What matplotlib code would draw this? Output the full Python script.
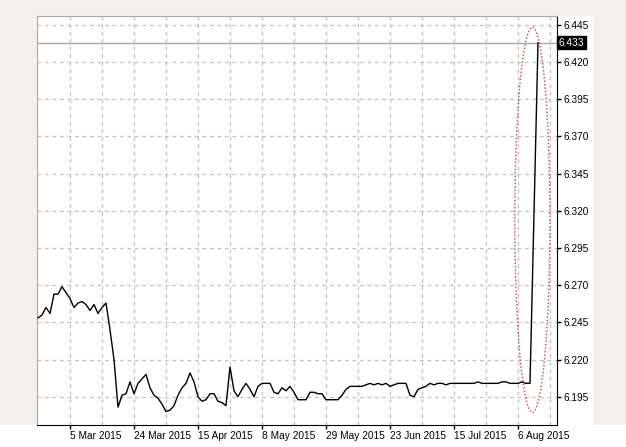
import matplotlib
matplotlib.use("Agg")
import matplotlib.pyplot as plt
from matplotlib.patches import Ellipse, Rectangle
import matplotlib.transforms as mtransforms

W, H = 626, 447
plt.rcParams["font.family"] = ["Liberation Sans", "DejaVu Sans"]

# one close per bar (bar index = position on the time axis)
prices = [
    6.248, 6.250, 6.255, 6.251, 6.264, 6.264, 6.269, 6.265, 6.261, 6.255,
    6.258, 6.259, 6.257, 6.253, 6.257, 6.251, 6.255, 6.258, 6.240, 6.220,
    6.188, 6.196, 6.197, 6.205, 6.197, 6.204, 6.207, 6.210, 6.201, 6.196,
    6.194, 6.190, 6.185, 6.186, 6.189, 6.196, 6.201, 6.204, 6.211, 6.205,
    6.195, 6.192, 6.193, 6.197, 6.197, 6.192, 6.191, 6.189, 6.215, 6.199,
    6.195, 6.200, 6.204, 6.200, 6.195, 6.202, 6.204, 6.204, 6.204, 6.198,
    6.197, 6.201, 6.199, 6.202, 6.198, 6.193, 6.193, 6.193, 6.198, 6.198,
    6.197, 6.197, 6.193, 6.193, 6.193, 6.193, 6.196, 6.200, 6.202, 6.202,
    6.202, 6.202, 6.203, 6.204, 6.203, 6.204, 6.203, 6.204, 6.202, 6.203,
    6.204, 6.204, 6.204, 6.196, 6.195, 6.200, 6.201, 6.202, 6.204, 6.203,
    6.204, 6.204, 6.203, 6.204, 6.204, 6.204, 6.204, 6.204, 6.204, 6.204,
    6.205, 6.204, 6.204, 6.204, 6.204, 6.204, 6.205, 6.205, 6.204, 6.204,
    6.204, 6.205, 6.204, 6.204, 6.318, 6.433,
]
last_price = 6.433

date_bars = [8, 24, 40, 56, 72, 88, 104, 120]
date_labels = ["5 Mar 2015", "24 Mar 2015", "15 Apr 2015", "8 May 2015",
               "29 May 2015", "23 Jun 2015", "15 Jul 2015", "6 Aug 2015"]
grid_bars = list(range(8, 130, 8))

price_ticks = [6.195, 6.220, 6.245, 6.270, 6.295, 6.320, 6.345,
               6.370, 6.395, 6.420, 6.445]
price_labels = ["6.195", "6.220", "6.245", "6.270", "6.295", "6.320",
                "6.345", "6.370", "6.395", "6.420", "6.445"]

# highlighted area (red dotted ellipse)
ell_x, ell_y, ell_w, ell_h = 123.6, 6.314, 8.8, 0.259

bg = "#f3efe9"
fig = plt.figure(figsize=(W / 100, H / 100), dpi=100, facecolor=bg)
# white panel behind plot + price scale, and the date strip
fig.patches.append(Rectangle((37 / W, 0), (592 - 37) / W, (H - 16) / H,
                             transform=fig.transFigure, color="white", zorder=-5))
fig.patches.append(Rectangle((0, 0), 1, 22 / H,
                             transform=fig.transFigure, color="white", zorder=-5))

ax = fig.add_axes([37 / W, 22 / H, (557 - 37) / W, (425 - 16) / H])
ax.set_facecolor("white")

ax.plot(range(len(prices)), prices, color="black", lw=1, zorder=3)
ax.axhline(last_price, color="#a8a8a8", lw=1, zorder=2)
ax.add_patch(Ellipse((ell_x, ell_y), ell_w, ell_h, fill=False,
                     edgecolor="#ff3030", lw=1, ls=(0, (1, 1.5)), zorder=4))

ax.set_xlim(-0.25, 129.75)
ax.set_ylim(6.176, 6.451)

ax.set_xticks(date_bars, date_labels)
ax.set_xticks(grid_bars, minor=True)
ax.set_yticks(price_ticks, price_labels)
ax.yaxis.tick_right()
for lab in ax.get_xticklabels():
    lab.set_horizontalalignment("left")
    lab.set_x(lab.get_position()[0])
ax.tick_params(axis="x", which="major", length=3, width=1, pad=1,
               labelsize=7.3, color="black")
ax.tick_params(axis="x", which="minor", length=0)
ax.tick_params(axis="y", length=3, width=1, pad=1.5, labelsize=7.3,
               color="black")

ax.grid(True, which="both", color="#c0c0c0", lw=0.9, ls=(0, (3, 3)))
ax.set_axisbelow(True)

for side in ("left", "top"):
    ax.spines[side].set_color("#a8a8a8")
for side in ("right", "bottom"):
    ax.spines[side].set_color("black")

trans = mtransforms.blended_transform_factory(ax.transAxes, ax.transData)
ax.text(1.003, last_price, "6.433", transform=trans, color="white",
        fontsize=7.3, va="center", ha="left", zorder=5,
        bbox=dict(boxstyle="square,pad=0.15", fc="black", ec="black"))

fig.savefig("out.png", dpi=100, facecolor=bg)
